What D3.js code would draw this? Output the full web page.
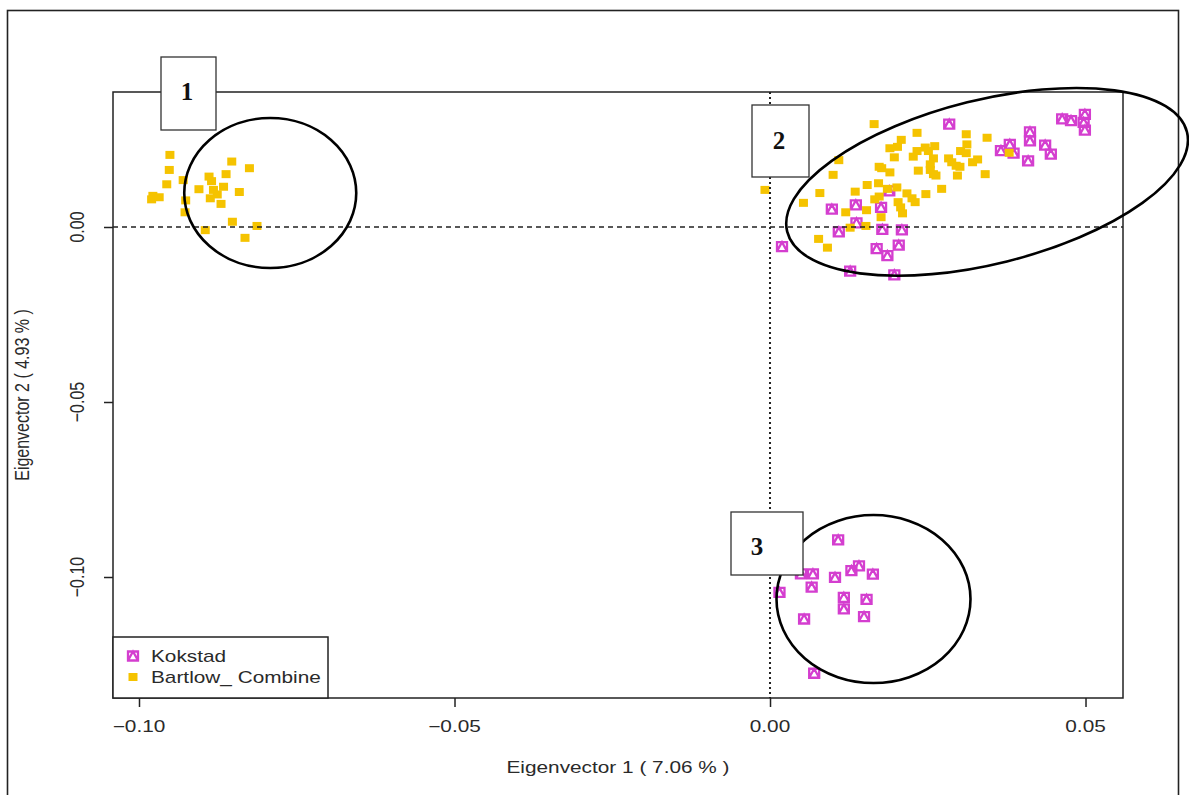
<!DOCTYPE html>
<html>
<head>
<meta charset="utf-8">
<script src="https://cdn.jsdelivr.net/npm/d3@7"></script>
<style>
  body { margin: 0; background: #fff; }
  svg { display: block; }
</style>
</head>
<body>
<div id="chart"></div>
<script>
// PCA scatter: Kokstad vs Bartlow_ Combine

// Kokstad (eigenvector 1, eigenvector 2)
const kokstadEv1 = [0.0098, 0.0136, 0.0176, 0.0189, 0.0137, 0.0109, 0.0178, 0.0209, 0.0169, 0.0186,
  0.0204, 0.0127, 0.0197, 0.0019, 0.0284, 0.0412, 0.0412, 0.0380, 0.0366, 0.0386,
  0.0436, 0.0445, 0.0409, 0.0463, 0.0477, 0.0499, 0.0497, 0.0499,
  0.0108, 0.0049, 0.0068, 0.0103, 0.0129, 0.0141, 0.0163, 0.0066, 0.0015, 0.0117,
  0.0153, 0.0117, 0.0149, 0.0054, 0.0070];
const kokstadEv2 = [0.0051, 0.0063, 0.0056, 0.0103, 0.0012, -0.0014, -0.0007, -0.0008, -0.0062, -0.0082,
  -0.0052, -0.0126, -0.0137, -0.0056, 0.0294, 0.0272, 0.0246, 0.0236, 0.0218, 0.0211,
  0.0234, 0.0208, 0.0189, 0.0309, 0.0304, 0.0322, 0.0299, 0.0277,
  -0.0894, -0.0991, -0.0991, -0.1001, -0.0982, -0.0968, -0.0992, -0.1029, -0.1044, -0.1058,
  -0.1064, -0.1091, -0.1113, -0.1120, -0.1275];

// Bartlow_ Combine (eigenvector 1, eigenvector 2)
const bartlowEv1 = [-0.0951, -0.0952, -0.0956, -0.0930, -0.0978, -0.0980, -0.0968, -0.0926, -0.0927, -0.0889,
  -0.0885, -0.0905, -0.0882, -0.0866, -0.0876, -0.0887, -0.0870, -0.0862, -0.0853, -0.0825,
  -0.0841, -0.0852, -0.0813, -0.0895, -0.0832,
  0.0165, 0.0190, 0.0202, 0.0208, 0.0197, 0.0109, 0.0100, 0.0173, 0.0177, 0.0190,
  0.0079, 0.0053, 0.0135, 0.0154, 0.0172, 0.0186, 0.0201, 0.0173, 0.0166, 0.0203,
  0.0207, 0.0210, 0.0217, 0.0153, 0.0120, 0.0176, 0.0152, 0.0127, 0.0077, 0.0091,
  -0.0008, 0.0233, 0.0311, 0.0344, 0.0312, 0.0233, 0.0246, 0.0261, 0.0251, 0.0227,
  0.0259, 0.0302, 0.0311, 0.0283, 0.0288, 0.0295, 0.0301, 0.0321, 0.0329, 0.0235,
  0.0254, 0.0254, 0.0259, 0.0263, 0.0297, 0.0341, 0.0272, 0.0247, 0.0225, 0.0230,
  0.0379];
const bartlowEv2 = [0.0206, 0.0163, 0.0122, 0.0134, 0.0089, 0.0079, 0.0085, 0.0076, 0.0042, 0.0144,
  0.0131, 0.0108, 0.0106, 0.0115, 0.0093, 0.0082, 0.0066, 0.0151, 0.0187, 0.0168,
  0.0100, 0.0015, 0.0003, -0.0009, -0.0031,
  0.0294, 0.0225, 0.0229, 0.0249, 0.0199, 0.0191, 0.0149, 0.0172, 0.0168, 0.0156,
  0.0097, 0.0069, 0.0101, 0.0120, 0.0125, 0.0109, 0.0113, 0.0087, 0.0079, 0.0071,
  0.0056, 0.0039, 0.0096, 0.0048, 0.0042, 0.0028, 0.0003, -0.0002, -0.0034, -0.0059,
  0.0106, 0.0269, 0.0265, 0.0255, 0.0236, 0.0217, 0.0227, 0.0231, 0.0217, 0.0201,
  0.0196, 0.0217, 0.0211, 0.0196, 0.0185, 0.0175, 0.0172, 0.0185, 0.0193, 0.0161,
  0.0179, 0.0163, 0.0151, 0.0147, 0.0147, 0.0151, 0.0109, 0.0094, 0.0082, 0.0071,
  0.0212];

const seriesNames = ["Kokstad", "Bartlow_ Combine"];
const xTicks = [-0.10, -0.05, 0.00, 0.05];
const yTicks = [0.00, -0.05, -0.10];
const xTitle = "Eigenvector 1 ( 7.06 % )";
const yTitle = "Eigenvector 2 ( 4.93 % )";
const groupLabels = ["1", "2", "3"];

// Ellipse centres in data units
const ellipseEv1 = [-0.0792, 0.0344, 0.0164];
const ellipseEv2 = [0.0097, 0.0129, -0.1063];

const width = 1189, height = 795;
const plot = { left: 113, right: 1123, top: 92, bottom: 698 };
const stretch = 1.3; // the figure is squeezed wider than tall
const kokColor = "#d43ecf";
const barColor = "#f5c300";
const fontSize = 16;

const x = d3.scaleLinear().domain([-0.10412, 0.05594]).range([plot.left, plot.right]);
const y = d3.scaleLinear().domain([0.03857, -0.13457]).range([plot.top, plot.bottom]);

const svg = d3.select("#chart").append("svg")
  .attr("width", width)
  .attr("height", height);

// outer frame
svg.append("rect")
  .attr("x", 7.5).attr("y", 10.5)
  .attr("width", 1171).attr("height", 800)
  .attr("fill", "none").attr("stroke", "#222").attr("stroke-width", 1.6);

function label(g, txt, px, py, size, rot, anchor) {
  return g.append("text")
    .attr("transform", `translate(${px},${py}) scale(${stretch},1)` + (rot ? ` rotate(${rot})` : ""))
    .attr("text-anchor", anchor || "middle")
    .attr("dominant-baseline", "central")
    .style("font-family", "'Liberation Sans', Arial, sans-serif")
    .style("font-size", size + "px")
    .attr("fill", "#2a2a2a")
    .text(txt);
}

// points: Kokstad first, Bartlow on top
const kokstad = kokstadEv1.map((v, i) => [v, kokstadEv2[i]]);
const bartlow = bartlowEv1.map((v, i) => [v, bartlowEv2[i]]);

function kokMarker(sel) {
  sel.append("path")
    .attr("d", "M-5,-4.5H5V4.5H-5Z M-5,4.5L0,-4.5L5,4.5")
    .attr("fill", "none")
    .attr("stroke", kokColor)
    .attr("stroke-width", 2.3)
    .attr("stroke-linejoin", "miter");
}

svg.append("g").selectAll("g")
  .data(kokstad)
  .enter().append("g")
  .attr("transform", d => `translate(${x(d[0])},${y(d[1])})`)
  .call(kokMarker);

svg.append("g").selectAll("rect")
  .data(bartlow)
  .enter().append("rect")
  .attr("x", d => x(d[0]) - 4.5)
  .attr("y", d => y(d[1]) - 4)
  .attr("width", 9).attr("height", 8)
  .attr("fill", barColor);

// reference lines at zero
svg.append("line")
  .attr("x1", plot.left).attr("x2", plot.right)
  .attr("y1", y(0)).attr("y2", y(0))
  .attr("stroke", "#222").attr("stroke-width", 1.5)
  .attr("stroke-dasharray", "5,4");
svg.append("line")
  .attr("x1", x(0)).attr("x2", x(0))
  .attr("y1", plot.top).attr("y2", plot.bottom)
  .attr("stroke", "#222").attr("stroke-width", 2)
  .attr("stroke-dasharray", "2,3");

// plot box
svg.append("rect")
  .attr("x", plot.left).attr("y", plot.top)
  .attr("width", plot.right - plot.left).attr("height", plot.bottom - plot.top)
  .attr("fill", "none").attr("stroke", "#222").attr("stroke-width", 1.5);

// axes (R style, ticks only)
const xAxis = svg.append("g")
  .attr("transform", `translate(0,${plot.bottom})`)
  .call(d3.axisBottom(x).tickValues(xTicks).tickSize(9).tickFormat(""));
const yAxis = svg.append("g")
  .attr("transform", `translate(${plot.left},0)`)
  .call(d3.axisLeft(y).tickValues(yTicks).tickSize(9).tickFormat(""));
[xAxis, yAxis].forEach(a => {
  a.select(".domain").remove();
  a.selectAll("line").attr("stroke", "#222").attr("stroke-width", 1.5);
});

const labels = svg.append("g");
xTicks.forEach(t => label(labels, d3.format(".2f")(t), x(t), 726, fontSize));
yTicks.forEach(t => label(labels, d3.format(".2f")(t), 77, y(t), fontSize, -90));
label(labels, xTitle, (plot.left + plot.right) / 2, 767, fontSize);
label(labels, yTitle, 22, (plot.top + plot.bottom) / 2, fontSize, -90);

// legend
const legend = svg.append("g");
legend.append("rect")
  .attr("x", 113).attr("y", 637)
  .attr("width", 215).attr("height", 61)
  .attr("fill", "#fff").attr("stroke", "#222").attr("stroke-width", 1.5);
legend.append("g").attr("transform", "translate(133,656)").call(kokMarker);
legend.append("rect").attr("x", 128.5).attr("y", 673).attr("width", 9).attr("height", 8).attr("fill", barColor);
label(legend, seriesNames[0], 151, 656, fontSize, 0, "start");
label(legend, seriesNames[1], 151, 677, fontSize, 0, "start");

// group ellipses
const ellipseShape = [
  { rx: 86, ry: 75, rot: 0 },
  { rx: 206, ry: 82, rot: -14 },
  { rx: 97, ry: 84, rot: 0 }
];
svg.append("g").selectAll("ellipse")
  .data(ellipseShape)
  .enter().append("ellipse")
  .attr("transform", (d, i) => `translate(${x(ellipseEv1[i])},${y(ellipseEv2[i])}) rotate(${d.rot})`)
  .attr("rx", d => d.rx).attr("ry", d => d.ry)
  .attr("fill", "none").attr("stroke", "#000").attr("stroke-width", 2.6);

// numbered label boxes
const boxes = [
  { x: 161, y: 57, w: 55, h: 73 },
  { x: 752, y: 105, w: 57, h: 72 },
  { x: 731, y: 512, w: 72, h: 63 }
];
const boxG = svg.append("g").selectAll("g")
  .data(boxes)
  .enter().append("g");
boxG.append("rect")
  .attr("x", d => d.x).attr("y", d => d.y)
  .attr("width", d => d.w).attr("height", d => d.h)
  .attr("fill", "#fff").attr("stroke", "#333").attr("stroke-width", 1.3);
boxG.append("text")
  .attr("x", (d, i) => [187, 779, 757][i])
  .attr("y", (d, i) => [91, 140, 546][i])
  .attr("text-anchor", "middle")
  .attr("dominant-baseline", "central")
  .style("font-family", "'Liberation Serif', 'DejaVu Serif', serif")
  .style("font-weight", "bold")
  .style("font-size", "25px")
  .attr("fill", "#111")
  .text((d, i) => groupLabels[i]);
</script>
</body>
</html>
